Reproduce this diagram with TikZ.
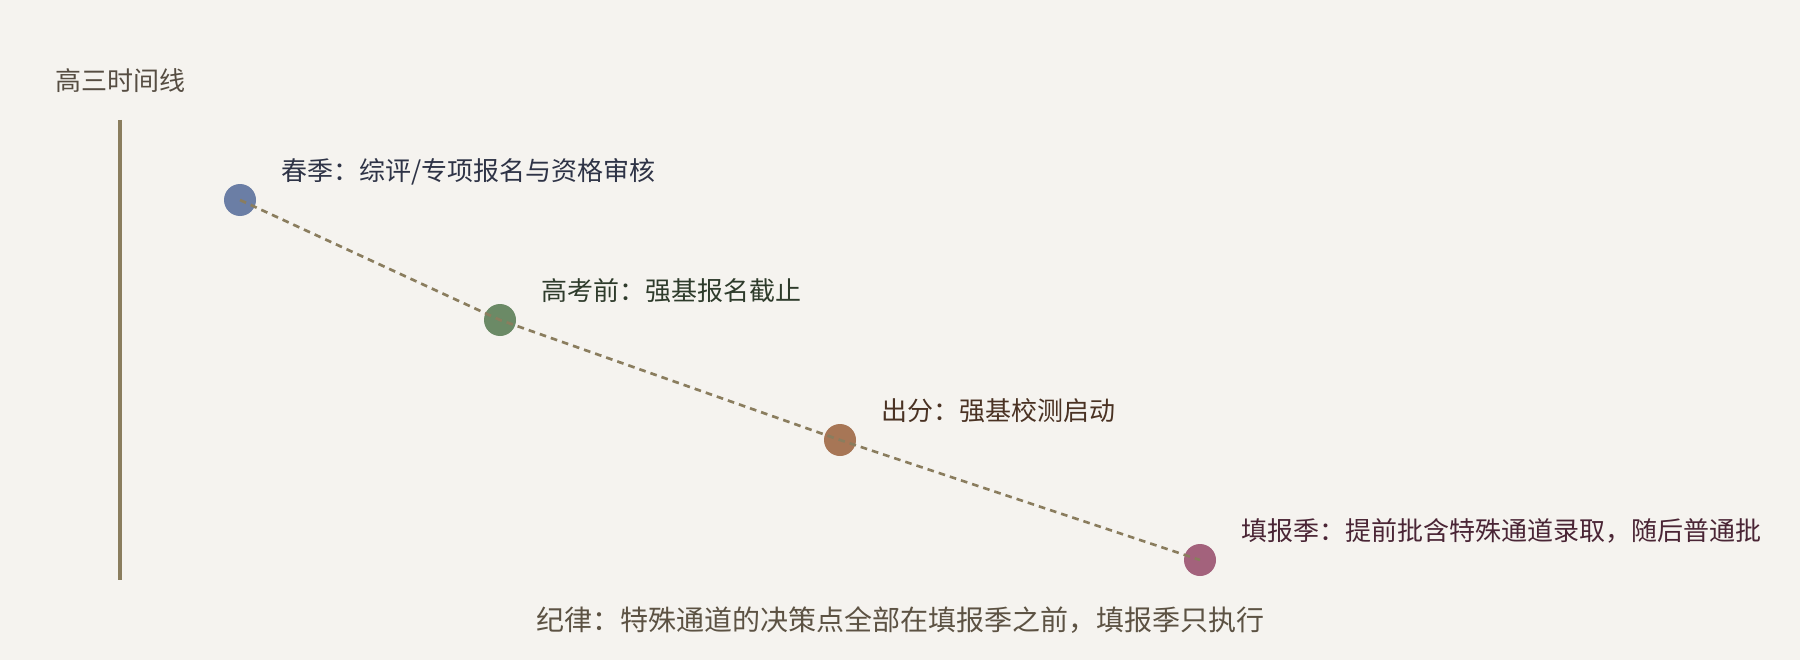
\documentclass[tikz,border=0pt]{standalone}
\usepackage{fontspec}
\setmainfont{Noto Sans CJK SC}
\definecolor{bg}{HTML}{F5F3EF}
\definecolor{axis}{HTML}{8A7D5E}
\definecolor{titlec}{HTML}{564D42}
\definecolor{footc}{HTML}{5C5243}
\definecolor{cA}{HTML}{6B7EA5}
\definecolor{cB}{HTML}{6B8A66}
\definecolor{cC}{HTML}{A77656}
\definecolor{cD}{HTML}{A3627C}
\definecolor{tA}{HTML}{2E3346}
\definecolor{tB}{HTML}{2E3B2B}
\definecolor{tC}{HTML}{4A3223}
\definecolor{tD}{HTML}{4A2535}
\tikzset{
  dotnode/.style={circle, inner sep=0pt, minimum size=24pt},
  lbl/.style={anchor=base west, inner sep=0pt, font=\fontsize{19.5pt}{23pt}\selectfont},
  dashline/.style={draw=axis, line width=2pt, dash pattern=on 5pt off 3.8pt},
}
\begin{document}
\begin{tikzpicture}[x=0.75pt,y=-0.75pt]
\fill[bg] (0,0) rectangle (1800,660);
\useasboundingbox (0,0) rectangle (1800,660);
\node[lbl, text=titlec] (title) at (55,90.5) {高三时间线};
\coordinate (axtop) at (120,120);
\coordinate (axbot) at (120,580);
\draw[axis, line width=3pt] (axtop) -- (axbot);
\node[dotnode, fill=cA] (p1) at (240,200) {};
\node[dotnode, fill=cB] (p2) at (500,320) {};
\node[dotnode, fill=cC] (p3) at (840,440) {};
\node[dotnode, fill=cD] (p4) at (1200,560) {};
\draw[dashline] (p1.center) -- (p2.center) -- (p3.center) -- (p4.center);
\node[lbl, text=tA] (l1) at (281,180.5) {春季：综评/专项报名与资格审核};
\node[lbl, text=tB] (l2) at (541,300.5) {高考前：强基报名截止};
\node[lbl, text=tC] (l3) at (881,420.5) {出分：强基校测启动};
\node[lbl, text=tD] (l4) at (1241,540.5) {填报季：提前批含特殊通道录取，随后普通批};
\node[anchor=base, inner sep=0pt, text=footc, font=\fontsize{21pt}{26pt}\selectfont] (foot) at (900,630) {纪律：特殊通道的决策点全部在填报季之前，填报季只执行};
\end{tikzpicture}
\end{document}
